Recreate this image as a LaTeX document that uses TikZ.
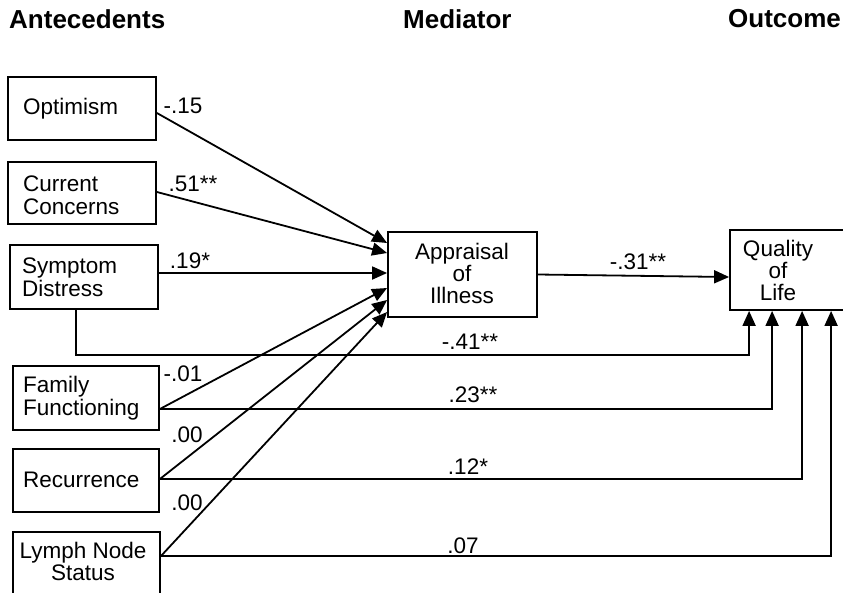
\documentclass[tikz,border=0pt]{standalone}
\usepackage{fontspec}
\setmainfont{Liberation Sans}
\usetikzlibrary{arrows.meta,calc}
\begin{document}
\begin{tikzpicture}[x=1pt,y=-1pt,
  box/.style={draw,line width=1.8pt,inner sep=0pt,minimum width=148pt},
  btext/.style={font=\fontsize{22.5}{23.5}\selectfont,align=left,inner sep=0pt},
  ctext/.style={font=\fontsize{22.5}{22}\selectfont,align=center,inner sep=0pt},
  lab/.style={font=\fontsize{22.5}{23}\selectfont,inner sep=0pt},
  head/.style={font=\fontsize{26}{28}\bfseries\selectfont,inner sep=0pt,anchor=west},
  arr/.style={line width=1.8pt,-{Triangle[length=15pt,width=13pt]}}]
\clip (0,0) rectangle (843,592);
\fill[white] (0,0) rectangle (843,592);
% headers
\node[head] (h1) at (9,19) {Antecedents};
\node[head] (h2) at (403,19) {Mediator};
\node[head] (h3) at (728,19) {Outcome};
% antecedent boxes
\node[box,minimum width=148pt,minimum height=63pt] (opt) at (82,108.5) {};
\node[btext,anchor=west] (optt) at (23,108.5) {Optimism};
\node[box,minimum width=148pt,minimum height=62pt] (cur) at (82,193) {};
\node[btext,anchor=west] (curt) at (23,195) {Current\\Concerns};
\node[box,minimum width=148pt,minimum height=64pt] (sym) at (84,277) {};
\node[btext,anchor=west] (symt) at (22,277) {Symptom\\Distress};
\node[box,minimum width=146pt,minimum height=64pt] (fam) at (86,398) {};
\node[btext,anchor=west] (famt) at (23,398) {Family\\Functioning};
\node[box,minimum width=146pt,minimum height=63pt] (rec) at (86,480.5) {};
\node[btext,anchor=west] (rect) at (23,480) {Recurrence};
\node[box,minimum width=147pt,minimum height=70pt] (lym) at (86.5,567) {};
\node[ctext] (lymt) at (83,561) {Lymph Node\\Status};
% mediator
\node[box,minimum width=149pt,minimum height=85pt] (app) at (462.5,274.5) {};
\node[ctext] (appt) at (462,273) {Appraisal\\of\\Illness};
% outcome
\node[box,minimum width=124pt,minimum height=80pt] (qol) at (792,270) {};
\node[ctext] (qolt) at (778,270) {Quality\\of\\Life};
% paths to mediator
\draw[arr] ($(opt.east)+(0,4.5)$) -- ($(app.west)+(0,-31.5)$);
\draw[arr] ($(cur.east)+(0,-1)$) -- ($(app.west)+(0,-21.5)$);
\draw[arr] ($(sym.east)+(0,-4)$) -- ($(app.west)+(0,-1.5)$);
\draw[arr] ($(fam.east)+(0,11)$) -- ($(app.west)+(0,13.5)$);
\draw[arr] ($(rec.east)+(0,-1.5)$) -- ($(app.west)+(0,25.5)$);
\draw[arr] ($(lym.north east)+(0,25)$) -- ($(app.west)+(0,37.5)$);
% mediator to outcome
\draw[arr] (app.east) -- ($(qol.west)+(0,7)$);
% direct paths
\coordinate (q1) at ($(qol.south west)+(20,0)$);
\coordinate (q2) at ($(qol.south west)+(43,0)$);
\coordinate (q3) at ($(qol.south west)+(73,0)$);
\coordinate (q4) at ($(qol.south west)+(102,0)$);
\draw[arr] ($(sym.south)+(-8,0)$) -- ++(0,45) -| (q1);
\draw[arr] ($(fam.east)+(0,11)$) -| (q2);
\draw[arr] ($(rec.east)+(0,-1.5)$) -| (q3);
\draw[arr] ($(lym.north east)+(0,25)$) -| (q4);
% labels
\node[lab] (l1) at (183,106) {-.15};
\node[lab] (l2) at (193,184) {.51**};
\node[lab] (l3) at (190,261) {.19*};
\node[lab] (l4) at (183,374) {-.01};
\node[lab] (l5) at (187,435) {.00};
\node[lab] (l6) at (187,503) {.00};
\node[lab] (l7) at (638,262) {-.31**};
\node[lab] (l8) at (470,342) {-.41**};
\node[lab] (l9) at (473,395) {.23**};
\node[lab] (l10) at (468,467) {.12*};
\node[lab] (l11) at (463,546) {.07};
\end{tikzpicture}
\end{document}
